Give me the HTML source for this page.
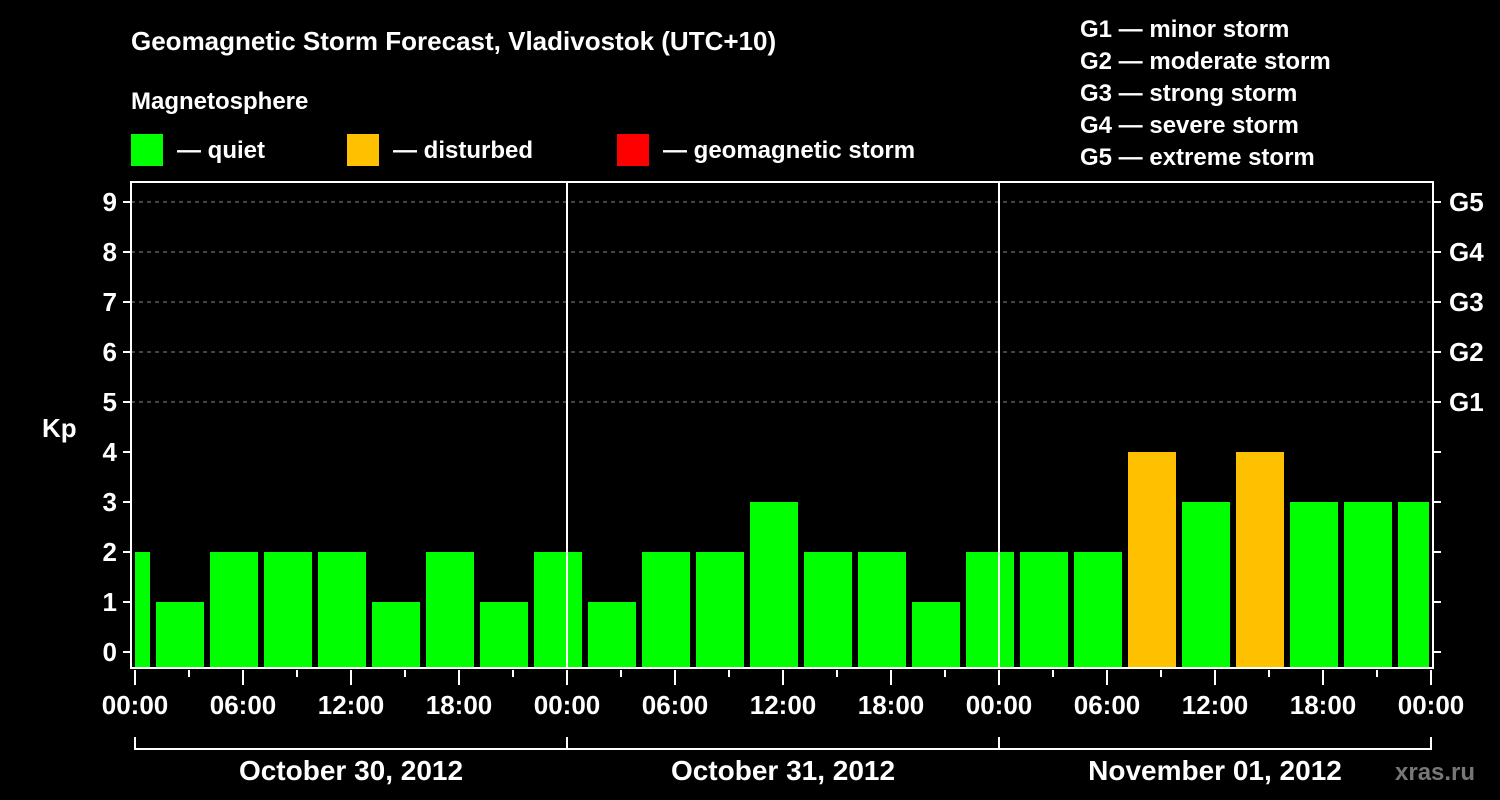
<!DOCTYPE html>
<html><head><meta charset="utf-8"><style>
html,body{margin:0;padding:0;background:#000;}
svg{display:block;font-family:"Liberation Sans",Arial,sans-serif;font-weight:bold;}
</style></head><body>
<svg id="chart" width="1500" height="800" viewBox="0 0 1500 800">
<rect width="1500" height="800" fill="#000"/>
<text x="131" y="50" fill="#fff" font-size="26">Geomagnetic Storm Forecast, Vladivostok (UTC+10)</text>
<text x="131" y="109" fill="#fff" font-size="24">Magnetosphere</text>
<g>
<rect x="131" y="134" width="32" height="32" fill="#00ff00"/>
<text x="177" y="158" fill="#fff" font-size="24">— quiet</text>
<rect x="347" y="134" width="32" height="32" fill="#ffc000"/>
<text x="393" y="158" fill="#fff" font-size="24">— disturbed</text>
<rect x="617" y="134" width="32" height="32" fill="#ff0000"/>
<text x="663" y="158" fill="#fff" font-size="24">— geomagnetic storm</text>
</g>
<g fill="#fff" font-size="24">
<text x="1080" y="37">G1 — minor storm</text>
<text x="1080" y="69">G2 — moderate storm</text>
<text x="1080" y="101">G3 — strong storm</text>
<text x="1080" y="133">G4 — severe storm</text>
<text x="1080" y="165">G5 — extreme storm</text>
</g>
<text x="42" y="437" fill="#fff" font-size="26">Kp</text>
<text x="1395" y="780" fill="#777" font-size="24">xras.ru</text>
<defs><clipPath id="plotclip"><rect x="135" y="182" width="1294" height="486"/></clipPath></defs>
<g id="grid"></g>
<g id="bars" clip-path="url(#plotclip)"></g>
<g id="axes"></g>
</svg>
<script>
const barStartHours = [-2,1,4,7,10,13,16,19,22,25,28,31,34,37,40,43,46,49,52,55,58,61,64,67,70];
const kpValues = [2,1,2,2,2,1,2,1,2,1,2,2,3,2,2,1,2,2,2,4,3,4,3,3,3];
const kpTicks = [0,1,2,3,4,5,6,7,8,9];
const gLabels = ["G1","G2","G3","G4","G5"];
const gLevels = [5,6,7,8,9];
const timeLabels = ["00:00","06:00","12:00","18:00","00:00","06:00","12:00","18:00","00:00","06:00","12:00","18:00","00:00"];
const dayLabels = ["October 30, 2012","October 31, 2012","November 01, 2012"];

const NS="http://www.w3.org/2000/svg";
const X0=135, PXH=18, Y0=652, PXK=50, TOP=182, BOT=668, LEFT=131, RIGHT=1433;
const xs=h=>X0+h*PXH, ys=k=>Y0-k*PXK;
function mk(tag,attrs,parent){const e=document.createElementNS(NS,tag);for(const k in attrs)e.setAttribute(k,attrs[k]);parent.appendChild(e);return e;}
const grid=document.getElementById('grid'), bars=document.getElementById('bars'), axes=document.getElementById('axes');

gLevels.forEach(k=>{
  const l=mk('line',{x1:LEFT,x2:RIGHT,y1:ys(k),y2:ys(k),stroke:'#888','stroke-dasharray':'4,4','stroke-width':1},grid);
  
  
});

kpValues.forEach((v,i)=>{
  const h=barStartHours[i];
  const r=mk('rect',{x:xs(h)+3,width:3*PXH-6,y:ys(v),height:BOT-ys(v),fill:v>=5?'#ff0000':(v>=4?'#ffc000':'#00ff00')},bars);
  
  
});

// frame
const fr=mk('rect',{x:LEFT,y:TOP,width:RIGHT-LEFT,height:BOT-TOP,fill:'none',stroke:'#fff','stroke-width':2},axes);


[1,2].forEach(d=>{
  const l=mk('line',{x1:xs(24*d),x2:xs(24*d),y1:TOP,y2:BOT,stroke:'#fff','stroke-width':2},axes);
  
  
});
kpTicks.forEach(k=>{
  const t=mk('line',{x1:LEFT-8,x2:LEFT,y1:ys(k),y2:ys(k),stroke:'#fff','stroke-width':2},axes);
  
  
  const t2=mk('line',{x1:RIGHT,x2:RIGHT+8,y1:ys(k),y2:ys(k),stroke:'#fff','stroke-width':2},axes);
  
  
  const tx=mk('text',{x:LEFT-14,y:ys(k)+9,fill:'#fff','font-size':26,'text-anchor':'end'},axes);
  tx.textContent=k;
  
  
});
gLabels.forEach((g,i)=>{
  const tx=mk('text',{x:RIGHT+16,y:ys(gLevels[i])+9,fill:'#fff','font-size':26},axes);
  tx.textContent=g;
  
  
});
for(let h=0;h<=72;h+=3){
  const major=h%6===0;
  const t=mk('line',{x1:xs(h),x2:xs(h),y1:BOT+2,y2:BOT+(major?17:9),stroke:'#fff','stroke-width':2},axes);
  
  
}
timeLabels.forEach((s,i)=>{
  const tx=mk('text',{x:xs(i*6),y:714,fill:'#fff','font-size':26,'text-anchor':'middle'},axes);
  tx.textContent=s;
  
  
});
const br=mk('polyline',{points:`${xs(0)},737 ${xs(0)},749 ${xs(72)},749 ${xs(72)},737`,fill:'none',stroke:'#fff','stroke-width':2},axes);


[1,2].forEach(d=>{
  const l=mk('line',{x1:xs(24*d),x2:xs(24*d),y1:737,y2:749,stroke:'#fff','stroke-width':2},axes);
  
  
});
dayLabels.forEach((s,i)=>{
  const tx=mk('text',{x:xs(24*i+12),y:780,fill:'#fff','font-size':28,'text-anchor':'middle'},axes);
  tx.textContent=s;
  
  
});
</script>
</body></html>
